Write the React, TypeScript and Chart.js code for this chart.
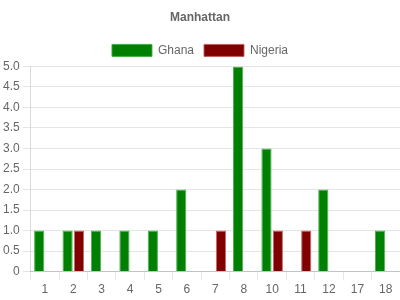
import React, { useEffect, useRef } from "react";
import { Chart, registerables } from "chart.js";
Chart.register(...registerables);

const categories = ["1", "2", "3", "4", "5", "6", "7", "8", "10", "11", "12", "17", "18"];
const ghana = [1, 1, 1, 1, 1, 2, 0, 5, 3, 0, 2, 0, 1];
const nigeria = [0, 1, 0, 0, 0, 0, 1, 0, 1, 1, 0, 0, 0];

export default function App() {
  const ref = useRef<HTMLCanvasElement>(null);
  useEffect(() => {
    document.body.style.margin = "0";
    const font = { family: "'Liberation Sans', Arial, sans-serif", size: 12 };
    const chart = new Chart(ref.current!, {
      type: "bar",
      data: {
        labels: categories,
        datasets: [
          { label: "Ghana", data: ghana, backgroundColor: "#008000", borderColor: "rgba(60,170,60,0.9)", borderWidth: 1, categoryPercentage: 0.8, barPercentage: 0.9 },
          { label: "Nigeria", data: nigeria, backgroundColor: "#800000", borderColor: "rgba(190,90,90,0.9)", borderWidth: 1, categoryPercentage: 0.8, barPercentage: 0.9 },
        ],
      },
      options: {
        responsive: false,
        animation: false,
        layout: { padding: { left: 0, right: 0, top: 0, bottom: 0 } },
        plugins: {
          title: { display: true, text: "Manhattan", color: "#666", font: { ...font, weight: "bold" }, padding: { top: 10, bottom: 10 } },
          legend: { labels: { color: "#666", font, boxWidth: 40, boxHeight: 12, padding: 10 } },
          tooltip: { enabled: false },
        },
        scales: {
          x: {
            ticks: { color: "#666", font },
            grid: { color: "rgba(0,0,0,0.1)", offset: true, drawOnChartArea: false, tickLength: 8 },
            border: { color: "rgba(0,0,0,0.15)" },
          },
          y: {
            min: 0,
            max: 5,
            ticks: { stepSize: 0.5, color: "#666", font, callback: (v: any) => (v === 0 ? "0" : Number(v).toFixed(1)) },
            grid: { color: "rgba(0,0,0,0.1)", tickLength: 8 },
            border: { color: "rgba(0,0,0,0.15)" },
          },
        },
      },
    });
    return () => chart.destroy();
  }, []);
  return <canvas ref={ref} width={400} height={300} style={{ display: "block" }} />;
}
